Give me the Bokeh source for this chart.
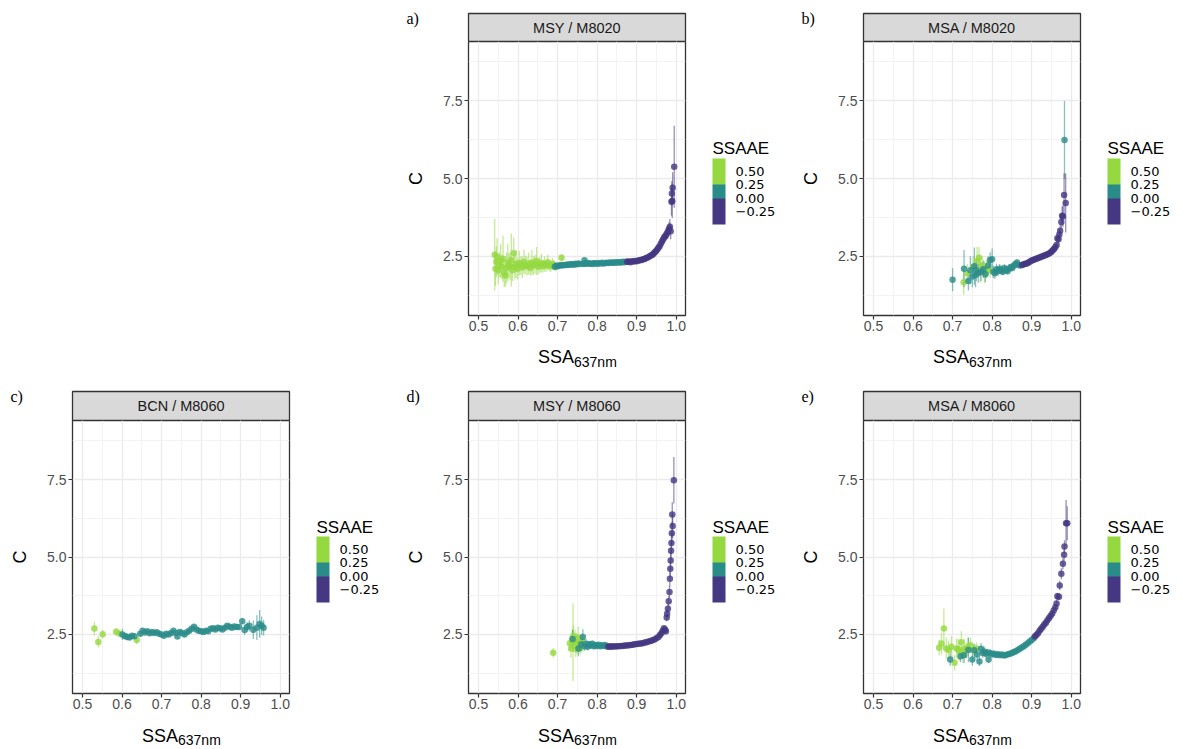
from bokeh.plotting import figure
from bokeh.models import (ColumnDataSource, ColorBar, LinearColorMapper, FixedTicker,
                          PrintfTickFormatter, Label, Spacer, AllLabels)
from bokeh.layouts import row, column
from bokeh.transform import transform
from bokeh.embed import file_html
from bokeh.resources import INLINE

# ---------------- data (SSA637nm, C, C error) grouped by SSAAE class ----------------
ssaae_levels = [0.375, 0.125, -0.125]          # class values: 0.25-0.50, 0.00-0.25, <0.00
ssaae_palette = ["#453781", "#453781", "#2A8C89", "#95D840", "#95D840"]
legend_ticks = [-0.25, 0.0, 0.25, 0.5]
x_ticks = [0.5, 0.6, 0.7, 0.8, 0.9, 1.0]
x_minor = [0.55, 0.65, 0.75, 0.85, 0.95]
y_ticks = [2.5, 5.0, 7.5]
y_minor = [1.25, 3.75, 6.25, 8.75]

msy_m8020_green = [(0.541, 2.55, 1.15), (0.543, 2.10, 0.55), (0.545, 2.32, 0.50), (0.547, 2.48, 0.60),
    (0.550, 2.05, 0.45), (0.553, 2.22, 0.40), (0.556, 2.35, 0.55), (0.559, 2.15, 0.40), (0.562, 2.42, 0.75),
    (0.565, 1.95, 0.45), (0.568, 1.88, 0.35), (0.571, 2.12, 0.50), (0.574, 2.30, 0.60), (0.577, 2.20, 0.40),
    (0.580, 2.18, 0.45), (0.583, 2.38, 0.85), (0.586, 2.05, 0.35), (0.589, 2.60, 0.50), (0.592, 2.15, 0.40),
    (0.595, 2.25, 0.45), (0.599, 2.10, 0.35), (0.603, 2.28, 0.40), (0.607, 2.20, 0.30), (0.611, 2.14, 0.35),
    (0.615, 2.32, 0.40), (0.619, 2.22, 0.30), (0.623, 2.18, 0.30), (0.627, 2.26, 0.35), (0.631, 2.12, 0.25),
    (0.635, 2.30, 0.40), (0.639, 2.20, 0.30), (0.643, 2.24, 0.30), (0.647, 2.35, 0.45), (0.651, 2.16, 0.25),
    (0.655, 2.22, 0.25), (0.659, 2.28, 0.30), (0.663, 2.18, 0.20), (0.667, 2.25, 0.25), (0.671, 2.20, 0.20),
    (0.675, 2.30, 0.25), (0.679, 2.22, 0.20), (0.683, 2.18, 0.18), (0.687, 2.26, 0.18), (0.691, 2.21, 0.15),
    (0.695, 2.17, 0.15), (0.710, 2.45, 0.12)]
msy_m8020_teal = [(0.693, 2.16, 0.10), (0.697, 2.19, 0.09), (0.701, 2.18, 0.09), (0.705, 2.21, 0.08),
    (0.709, 2.20, 0.08), (0.713, 2.22, 0.08), (0.717, 2.21, 0.07), (0.721, 2.23, 0.07), (0.725, 2.22, 0.07),
    (0.729, 2.24, 0.07), (0.733, 2.23, 0.06), (0.737, 2.25, 0.07), (0.741, 2.23, 0.06), (0.745, 2.26, 0.06),
    (0.749, 2.24, 0.06), (0.753, 2.27, 0.06), (0.757, 2.25, 0.06), (0.768, 2.37, 0.06), (0.765, 2.25, 0.05),
    (0.769, 2.27, 0.05), (0.773, 2.26, 0.05), (0.777, 2.28, 0.05), (0.781, 2.26, 0.05), (0.785, 2.27, 0.05),
    (0.789, 2.25, 0.05), (0.793, 2.28, 0.05), (0.797, 2.27, 0.05), (0.801, 2.26, 0.05), (0.805, 2.28, 0.05),
    (0.809, 2.27, 0.05), (0.813, 2.29, 0.05), (0.817, 2.27, 0.05), (0.821, 2.28, 0.04), (0.825, 2.29, 0.04),
    (0.829, 2.28, 0.04), (0.833, 2.30, 0.04), (0.837, 2.29, 0.04), (0.841, 2.30, 0.04), (0.845, 2.29, 0.04),
    (0.849, 2.31, 0.04), (0.853, 2.30, 0.04), (0.857, 2.31, 0.04), (0.861, 2.30, 0.04), (0.865, 2.32, 0.04),
    (0.869, 2.31, 0.04), (0.873, 2.32, 0.04)]
msy_m8020_purple = [(0.876, 2.32, 0.04), (0.880, 2.33, 0.04), (0.884, 2.31, 0.04), (0.888, 2.34, 0.04),
    (0.892, 2.33, 0.04), (0.896, 2.35, 0.04), (0.900, 2.34, 0.04), (0.904, 2.36, 0.04), (0.908, 2.37, 0.04),
    (0.912, 2.38, 0.05), (0.916, 2.40, 0.05), (0.920, 2.41, 0.05), (0.924, 2.44, 0.05), (0.928, 2.46, 0.05),
    (0.932, 2.49, 0.05), (0.936, 2.52, 0.05), (0.940, 2.55, 0.06), (0.943, 2.59, 0.06), (0.946, 2.63, 0.06),
    (0.949, 2.67, 0.07), (0.952, 2.72, 0.07), (0.955, 2.77, 0.08), (0.958, 2.82, 0.08), (0.961, 2.90, 0.09),
    (0.964, 2.97, 0.10), (0.967, 3.05, 0.12), (0.970, 3.12, 0.14), (0.973, 3.15, 0.15), (0.976, 3.22, 0.18),
    (0.979, 3.30, 0.20), (0.982, 3.38, 0.22), (0.984, 3.45, 0.25), (0.986, 3.30, 0.25), (0.988, 4.25, 0.45),
    (0.989, 4.52, 0.40), (0.990, 4.28, 0.55), (0.991, 4.70, 0.50), (0.995, 5.38, 1.32)]

msa_m8020_green = [(0.728, 1.66, 0.40), (0.737, 1.95, 0.30), (0.752, 2.15, 0.35), (0.762, 2.35, 0.45),
    (0.767, 2.45, 0.35), (0.770, 2.05, 0.40), (0.775, 2.20, 0.30), (0.781, 1.98, 0.35), (0.786, 2.10, 0.30),
    (0.795, 2.05, 0.25)]
msa_m8020_teal = [(0.700, 1.74, 0.37), (0.729, 2.10, 0.60), (0.740, 1.70, 0.30), (0.745, 2.05, 0.45),
    (0.750, 1.85, 0.35), (0.755, 2.18, 0.60), (0.758, 1.90, 0.40), (0.760, 2.05, 0.35), (0.765, 1.95, 0.30),
    (0.772, 2.00, 0.30), (0.778, 2.08, 0.28), (0.783, 1.92, 0.25), (0.790, 2.20, 0.30), (0.795, 2.38, 0.25),
    (0.800, 2.40, 0.35), (0.803, 2.00, 0.20), (0.807, 1.95, 0.18), (0.811, 2.08, 0.18), (0.815, 2.02, 0.15),
    (0.819, 2.10, 0.15), (0.823, 2.05, 0.14), (0.827, 2.00, 0.12), (0.831, 2.12, 0.12), (0.835, 2.06, 0.12),
    (0.839, 2.02, 0.10), (0.843, 2.10, 0.10), (0.847, 2.15, 0.10), (0.851, 2.12, 0.10), (0.855, 2.20, 0.10),
    (0.859, 2.25, 0.10), (0.863, 2.30, 0.10), (0.867, 2.22, 0.08), (0.871, 2.20, 0.08), (0.983, 6.24, 1.25)]
msa_m8020_purple = [(0.876, 2.22, 0.06), (0.880, 2.24, 0.06), (0.884, 2.26, 0.06), (0.888, 2.27, 0.05),
    (0.892, 2.30, 0.05), (0.896, 2.33, 0.05), (0.900, 2.36, 0.05), (0.904, 2.38, 0.05), (0.908, 2.40, 0.05),
    (0.912, 2.42, 0.05), (0.916, 2.44, 0.05), (0.920, 2.46, 0.05), (0.924, 2.48, 0.05), (0.928, 2.50, 0.05),
    (0.932, 2.52, 0.05), (0.936, 2.54, 0.05), (0.940, 2.56, 0.06), (0.944, 2.59, 0.06), (0.948, 2.62, 0.06),
    (0.951, 2.66, 0.07), (0.954, 2.70, 0.07), (0.957, 2.74, 0.08), (0.960, 2.80, 0.08), (0.963, 2.86, 0.10),
    (0.965, 3.08, 0.12), (0.968, 3.05, 0.15), (0.970, 3.20, 0.18), (0.972, 3.32, 0.20), (0.975, 3.60, 0.25),
    (0.977, 3.80, 0.30), (0.979, 3.78, 0.35), (0.982, 4.47, 0.70), (0.986, 4.21, 0.95)]

bcn_m8060_green = [(0.530, 2.69, 0.22), (0.540, 2.26, 0.18), (0.551, 2.51, 0.14), (0.585, 2.59, 0.12),
    (0.593, 2.53, 0.10), (0.637, 2.32, 0.12)]
bcn_m8060_teal = [(0.601, 2.50, 0.18), (0.607, 2.45, 0.10), (0.613, 2.42, 0.10), (0.619, 2.40, 0.08),
    (0.625, 2.46, 0.08), (0.631, 2.44, 0.08), (0.646, 2.52, 0.08), (0.652, 2.62, 0.08), (0.658, 2.56, 0.07),
    (0.664, 2.60, 0.07), (0.670, 2.54, 0.07), (0.676, 2.58, 0.07), (0.682, 2.55, 0.07), (0.688, 2.57, 0.07),
    (0.694, 2.52, 0.07), (0.700, 2.50, 0.07), (0.706, 2.46, 0.07), (0.712, 2.52, 0.07), (0.718, 2.50, 0.07),
    (0.724, 2.55, 0.07), (0.730, 2.62, 0.07), (0.736, 2.55, 0.07), (0.740, 2.43, 0.07), (0.746, 2.58, 0.07),
    (0.752, 2.55, 0.07), (0.758, 2.50, 0.07), (0.764, 2.57, 0.07), (0.770, 2.62, 0.07), (0.776, 2.68, 0.07),
    (0.782, 2.75, 0.07), (0.788, 2.66, 0.07), (0.794, 2.62, 0.07), (0.800, 2.60, 0.07), (0.806, 2.58, 0.07),
    (0.812, 2.62, 0.07), (0.818, 2.60, 0.07), (0.824, 2.68, 0.07), (0.830, 2.70, 0.07), (0.836, 2.66, 0.07),
    (0.842, 2.72, 0.07), (0.848, 2.70, 0.07), (0.854, 2.66, 0.07), (0.860, 2.72, 0.07), (0.866, 2.78, 0.07),
    (0.872, 2.75, 0.07), (0.878, 2.72, 0.07), (0.884, 2.76, 0.07), (0.890, 2.74, 0.08), (0.896, 2.74, 0.08),
    (0.904, 2.93, 0.10), (0.910, 2.64, 0.15), (0.916, 2.74, 0.15), (0.922, 2.78, 0.18), (0.932, 2.65, 0.30),
    (0.941, 2.72, 0.40), (0.948, 2.84, 0.45), (0.953, 2.78, 0.30), (0.958, 2.72, 0.25)]
bcn_m8060_purple = []

msy_m8060_green = [(0.689, 1.91, 0.15), (0.731, 2.22, 0.25), (0.734, 2.05, 0.30), (0.737, 2.30, 0.35),
    (0.740, 2.45, 0.35), (0.739, 2.25, 1.25), (0.744, 2.35, 0.30), (0.746, 2.02, 0.25), (0.748, 2.25, 0.30),
    (0.750, 2.10, 0.25), (0.752, 2.40, 0.35), (0.755, 2.18, 0.25), (0.758, 2.05, 0.20), (0.762, 2.28, 0.25)]
msy_m8060_teal = [(0.738, 2.35, 0.30), (0.753, 2.05, 0.25), (0.760, 2.18, 0.20), (0.764, 2.42, 0.25),
    (0.768, 2.12, 0.15), (0.772, 2.20, 0.15), (0.776, 2.10, 0.12), (0.780, 2.18, 0.12), (0.784, 2.14, 0.10),
    (0.788, 2.20, 0.10), (0.792, 2.12, 0.10), (0.796, 2.16, 0.10), (0.800, 2.13, 0.08), (0.804, 2.17, 0.08),
    (0.808, 2.12, 0.08), (0.812, 2.15, 0.07), (0.816, 2.13, 0.07), (0.820, 2.16, 0.07), (0.824, 2.12, 0.06)]
msy_m8060_purple = [(0.828, 2.10, 0.06), (0.832, 2.12, 0.05), (0.836, 2.10, 0.05), (0.840, 2.12, 0.05),
    (0.845, 2.11, 0.05), (0.850, 2.12, 0.05), (0.855, 2.12, 0.05), (0.860, 2.13, 0.05), (0.865, 2.13, 0.05),
    (0.870, 2.14, 0.05), (0.875, 2.14, 0.05), (0.880, 2.15, 0.05), (0.885, 2.16, 0.05), (0.890, 2.17, 0.05),
    (0.895, 2.18, 0.05), (0.900, 2.19, 0.05), (0.905, 2.20, 0.05), (0.910, 2.21, 0.05), (0.915, 2.22, 0.05),
    (0.920, 2.24, 0.05), (0.925, 2.25, 0.05), (0.930, 2.27, 0.05), (0.935, 2.29, 0.05), (0.940, 2.31, 0.05),
    (0.945, 2.34, 0.06), (0.950, 2.38, 0.06), (0.955, 2.42, 0.06), (0.959, 2.48, 0.07), (0.963, 2.55, 0.07),
    (0.966, 2.62, 0.08), (0.969, 2.70, 0.08), (0.972, 2.65, 0.10), (0.974, 2.60, 0.10), (0.976, 3.05, 0.12),
    (0.977, 3.17, 0.15), (0.979, 3.33, 0.15), (0.981, 3.57, 0.18), (0.983, 3.87, 0.20), (0.984, 4.30, 0.25),
    (0.985, 4.62, 0.25), (0.986, 4.89, 0.30), (0.987, 5.20, 0.30), (0.988, 5.45, 0.35), (0.989, 5.77, 0.35),
    (0.991, 6.00, 0.40), (0.990, 6.37, 0.40), (0.994, 7.48, 0.75)]

msa_m8060_green = [(0.666, 2.07, 0.25), (0.672, 2.21, 0.35), (0.678, 2.69, 0.65), (0.684, 2.05, 0.35),
    (0.690, 2.00, 0.30), (0.697, 2.10, 0.35), (0.705, 1.59, 0.25), (0.710, 2.05, 0.30), (0.714, 2.02, 0.35),
    (0.718, 1.95, 0.30), (0.722, 2.25, 0.35), (0.726, 1.83, 0.25), (0.730, 2.05, 0.30), (0.735, 1.98, 0.25),
    (0.739, 2.09, 0.30), (0.745, 2.15, 0.25), (0.752, 2.00, 0.20), (0.760, 2.05, 0.20)]
msa_m8060_teal = [(0.694, 1.69, 0.20), (0.720, 1.80, 0.20), (0.729, 1.83, 0.25), (0.740, 2.00, 0.40),
    (0.750, 1.69, 0.20), (0.755, 1.99, 0.20), (0.762, 1.85, 0.20), (0.768, 1.63, 0.15), (0.772, 2.04, 0.18),
    (0.776, 1.90, 0.15), (0.780, 1.95, 0.15), (0.784, 1.88, 0.12), (0.788, 1.92, 0.12), (0.791, 1.69, 0.12),
    (0.795, 1.90, 0.12), (0.800, 1.86, 0.10), (0.805, 1.88, 0.10), (0.810, 1.84, 0.10), (0.815, 1.86, 0.08),
    (0.820, 1.83, 0.08), (0.825, 1.85, 0.08), (0.830, 1.82, 0.08), (0.835, 1.84, 0.08), (0.840, 1.86, 0.08),
    (0.845, 1.88, 0.08), (0.850, 1.90, 0.08), (0.855, 1.93, 0.08), (0.860, 1.96, 0.08), (0.865, 2.00, 0.08),
    (0.870, 2.04, 0.08), (0.875, 2.08, 0.08), (0.880, 2.12, 0.08), (0.885, 2.17, 0.08), (0.890, 2.22, 0.08),
    (0.895, 2.27, 0.08), (0.900, 2.32, 0.08), (0.905, 2.38, 0.08)]
msa_m8060_purple = [(0.908, 2.43, 0.08), (0.912, 2.48, 0.08), (0.916, 2.54, 0.08), (0.920, 2.62, 0.08),
    (0.924, 2.68, 0.08), (0.928, 2.75, 0.08), (0.932, 2.82, 0.08), (0.936, 2.88, 0.08), (0.940, 2.96, 0.08),
    (0.944, 3.03, 0.09), (0.948, 3.10, 0.09), (0.952, 3.18, 0.10), (0.956, 3.28, 0.10), (0.960, 3.38, 0.10),
    (0.963, 3.50, 0.12), (0.965, 3.73, 0.12), (0.969, 3.72, 0.12), (0.971, 4.08, 0.15), (0.975, 4.46, 0.18),
    (0.979, 4.78, 0.18), (0.982, 5.07, 0.20), (0.983, 5.34, 0.20), (0.987, 6.09, 0.75), (0.990, 6.09, 0.55)]

# ---------------- styling ----------------
FONT = "Liberation Sans"
FW = 217           # plotting-area width (px)
AXB = 26           # room below a panel for the x tick labels (px)
GAP = 4            # room right of a panel so that the "1.0" tick label is not cut
X0, X1 = 0.4747, 1.0235
Y0, Y1 = 0.594, 9.406
mapper = LinearColorMapper(palette=ssaae_palette, low=-0.5, high=0.75)


def make_source(groups):
    ssa, c, lo, hi, s = [], [], [], [], []
    for level, pts in zip(ssaae_levels, groups):
        for x, y, e in pts:
            ssa.append(x); c.append(y); lo.append(y - e); hi.append(y + e); s.append(level)
    return ColumnDataSource(dict(ssa=ssa, c=c, lo=lo, hi=hi, ssaae=s))


def blank(w, h, left=0, right=0):
    # a figure whose plotting area (w x h px) is used as a pixel canvas for texts
    f = figure(frame_width=w, frame_height=h, x_range=(0, w), y_range=(0, h),
               toolbar_location=None, output_backend="svg",
               min_border_left=left, min_border_right=right, min_border_top=0, min_border_bottom=0,
               x_axis_location=None, y_axis_location=None, outline_line_color=None)
    f.grid.visible = False
    return f


def make_panel(groups, title, letter, left, right, strip_top, strip_h, frame_h, bottom,
               ssa_mid, sub_mid):
    # header: panel letter + grey facet strip
    hw, hh = left + FW + right, strip_top + strip_h
    head = blank(hw, hh)
    head.quad(left=[left], right=[left + FW], bottom=[0], top=[strip_h],
              fill_color="#D9D9D9", line_color="#333333", line_width=1.3)
    head.add_layout(Label(x=left + FW / 2, y=strip_h / 2, text=title, text_align="center",
                          text_baseline="middle", text_font=FONT, text_font_size="14.5px",
                          text_color="#1A1A1A"))
    head.add_layout(Label(x=left - 62, y=hh - 17.5, text=letter,
                          text_align="left", text_baseline="middle", text_font="Liberation Serif",
                          text_font_size="16px", text_color="black"))

    # main panel
    p = figure(frame_width=FW, frame_height=frame_h, x_range=(X0, X1), y_range=(Y0, Y1),
               toolbar_location=None, output_backend="svg",
               min_border_left=left, min_border_right=GAP, min_border_top=0, min_border_bottom=AXB,
               outline_line_color="#333333", outline_line_width=1.3)
    src = make_source(groups)
    p.segment(x0="ssa", y0="lo", x1="ssa", y1="hi", source=src,
              line_color=transform("ssaae", mapper), line_alpha=0.55, line_width=1.3)
    p.scatter("ssa", "c", source=src, size=6.5, fill_color=transform("ssaae", mapper),
              line_color=None, fill_alpha=0.8)

    p.xaxis.ticker = FixedTicker(ticks=x_ticks, minor_ticks=x_minor)
    p.yaxis.ticker = FixedTicker(ticks=y_ticks, minor_ticks=y_minor)
    p.axis.formatter = PrintfTickFormatter(format="%.1f")
    p.axis.axis_line_color = None
    p.axis.major_tick_line_color = "#333333"
    p.axis.major_tick_line_width = 1.2
    p.axis.major_tick_out = 4
    p.axis.major_tick_in = 0
    p.axis.minor_tick_line_color = None
    p.axis.major_label_text_font = FONT
    p.axis.major_label_text_font_size = "14px"
    p.axis.major_label_text_color = "#4D4D4D"
    p.xaxis.major_label_standoff = 1
    p.yaxis.major_label_standoff = 2
    p.yaxis.axis_label = "C"
    p.yaxis.axis_label_text_font = FONT
    p.yaxis.axis_label_text_font_size = "18px"
    p.yaxis.axis_label_text_font_style = "normal"
    p.yaxis.axis_label_text_color = "black"
    p.yaxis.axis_label_standoff = 14
    p.grid.grid_line_color = "#EBEBEB"
    p.grid.grid_line_width = 1.3
    p.grid.minor_grid_line_color = "#F0F0F0"
    p.grid.minor_grid_line_width = 0.8

    # x axis title with subscript (same side borders as the panel, so frames line up)
    cap_h = bottom - AXB
    cap = blank(FW, cap_h, left=left, right=GAP)
    xt = FW / 2 - 3
    cap.add_layout(Label(x=xt, y=cap_h - (ssa_mid - AXB), text="SSA",
                         text_align="right", text_baseline="middle", text_font=FONT,
                         text_font_size="18px", text_color="black"))
    cap.add_layout(Label(x=xt, y=cap_h - (sub_mid - AXB), text="637nm",
                         text_align="left", text_baseline="middle", text_font=FONT,
                         text_font_size="14px", text_color="black"))

    # legend
    lw, lh = right - GAP, frame_h + bottom
    leg = blank(lw, lh)
    bx = 27 - GAP
    leg.add_layout(Label(x=bx, y=bottom + frame_h - 107, text="SSAAE",
                         text_align="left", text_baseline="alphabetic", text_font=FONT,
                         text_font_size="17px", text_color="black"))
    cb = ColorBar(color_mapper=mapper, ticker=FixedTicker(ticks=legend_ticks),
                  formatter=PrintfTickFormatter(format="%.2f"),
                  major_label_overrides={-0.25: "\u22120.25"},
                  major_label_policy=AllLabels(),
                  width=13, height=66, location=(bx, bottom + 91), orientation="vertical",
                  padding=0, margin=0, label_standoff=10, major_tick_line_color=None,
                  major_tick_out=0, major_tick_in=0, minor_tick_line_color=None,
                  bar_line_color=None, border_line_color=None, background_fill_alpha=0,
                  major_label_text_font="DejaVu Sans", major_label_text_font_size="13px",
                  major_label_text_color="black")
    leg.add_layout(cb)

    return column(head, row(column(p, cap), leg))


cell_a = make_panel([msy_m8020_green, msy_m8020_teal, msy_m8020_purple], "MSY / M8020", "a)",
                    74, 105, 13, 28, 274, 63, 41.7, 46.3)
cell_b = make_panel([msa_m8020_green, msa_m8020_teal, msa_m8020_purple], "MSA / M8020", "b)",
                    73, 103, 13, 28, 274, 63, 41.7, 46.3)
cell_c = make_panel([bcn_m8060_green, bcn_m8060_teal, bcn_m8060_purple], "BCN / M8060", "c)",
                    72, 105, 13, 29, 273, 56, 42, 46.5)
cell_d = make_panel([msy_m8060_green, msy_m8060_teal, msy_m8060_purple], "MSY / M8060", "d)",
                    74, 105, 13, 29, 273, 56, 42, 46.5)
cell_e = make_panel([msa_m8060_green, msa_m8060_teal, msa_m8060_purple], "MSA / M8060", "e)",
                    73, 103, 13, 29, 273, 56, 42, 46.5)

layout = column(row(Spacer(width=394, height=378), cell_a, cell_b),
                row(cell_c, cell_d, cell_e))

open("out.html", "w").write(file_html(layout, INLINE))
